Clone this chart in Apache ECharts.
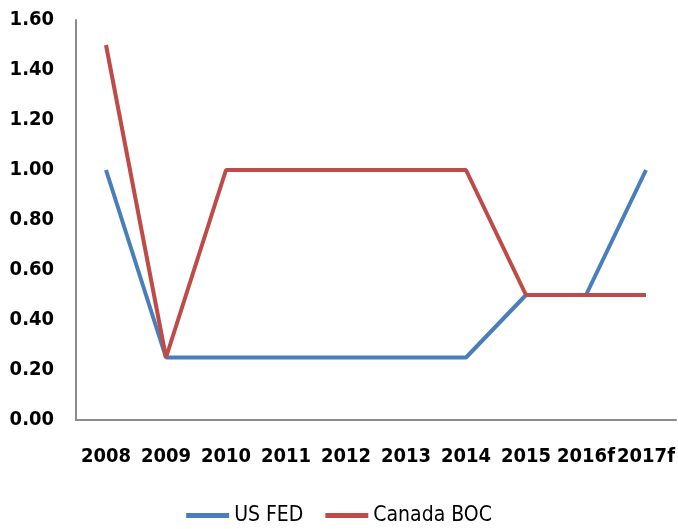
<!DOCTYPE html>
<html>
<head>
<meta charset="utf-8">
<script src="https://cdn.jsdelivr.net/npm/echarts@6/dist/echarts.min.js"></script>
<style>
  html, body { margin: 0; padding: 0; background: #fff; }
  #chart { width: 678px; height: 529px; }
</style>
</head>
<body>
<div id="chart"></div>
<script>
// 类目与数据
const years = ['2008', '2009', '2010', '2011', '2012', '2013', '2014', '2015', '2016f', '2017f'];
const usFed = [1.00, 0.25, 0.25, 0.25, 0.25, 0.25, 0.25, 0.50, 0.50, 1.00];
const canadaBoc = [1.50, 0.25, 1.00, 1.00, 1.00, 1.00, 1.00, 0.50, 0.50, 0.50];
const seriesNames = ['US FED', 'Canada BOC'];
const lineColors = ['#4a7ebb', '#be4b48'];

const font = '"DejaVu Sans Condensed", "Liberation Sans Narrow", sans-serif';

let myChart = echarts.init(document.getElementById('chart'), null, { renderer: 'canvas' });

myChart.setOption({
    backgroundColor: '#fff',
    animation: false,
    grid: {
        left: 76,
        right: 2,
        top: 20,
        bottom: 109,
        containLabel: false
    },
    legend: {
        bottom: -2,
        left: 'center',
        icon: 'rect',
        itemWidth: 43,
        itemHeight: 5,
        itemGap: 22,
        textStyle: {
            fontFamily: font,
            fontSize: 21,
            color: '#000'
        },
        data: seriesNames
    },
    xAxis: {
        type: 'category',
        data: years,
        boundaryGap: true,
        axisLine: { lineStyle: { color: '#8c8c8c', width: 2 } },
        axisTick: { show: false },
        axisLabel: {
            margin: 27,
            interval: 0,
            fontFamily: font,
            fontSize: 20,
            fontWeight: 'bold',
            color: '#000'
        }
    },
    yAxis: {
        type: 'value',
        min: 0,
        max: 1.6,
        interval: 0.2,
        axisLine: { show: true, lineStyle: { color: '#8c8c8c', width: 2 } },
        axisTick: { show: false },
        splitLine: { show: false },
        axisLabel: {
            margin: 22,
            fontFamily: font,
            fontSize: 20,
            fontWeight: 'bold',
            color: '#000',
            formatter: v => v.toFixed(2)
        }
    },
    series: [
        {
            name: seriesNames[0],
            type: 'line',
            data: usFed,
            symbol: 'none',
            itemStyle: { color: lineColors[0] },
            lineStyle: { color: lineColors[0], width: 4 }
        },
        {
            name: seriesNames[1],
            type: 'line',
            data: canadaBoc,
            symbol: 'none',
            itemStyle: { color: lineColors[1] },
            lineStyle: { color: lineColors[1], width: 4 }
        }
    ]
});
</script>
</body>
</html>
